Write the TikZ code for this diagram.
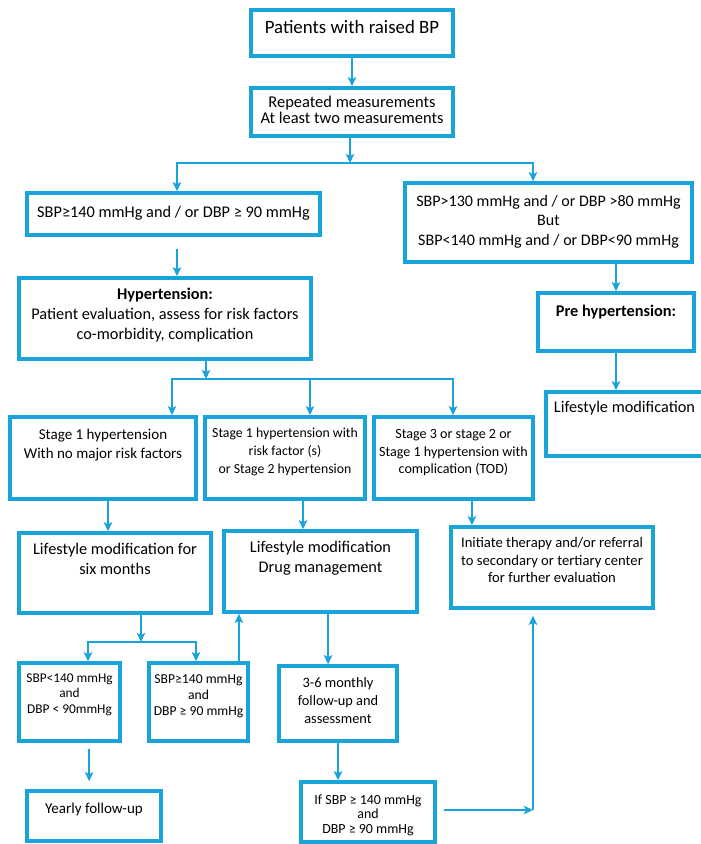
\documentclass[tikz,border=0pt]{standalone}
\usepackage{fontspec}
\setmainfont{Carlito}
\usepackage{tikz}
\usetikzlibrary{arrows.meta, positioning}

\definecolor{bpblue}{RGB}{24,163,218}
\newlength{\pxu}\setlength{\pxu}{0.025cm}
\newcommand{\fsz}[2]{\fontsize{#1}{#2}\selectfont}
\newcommand{\btxt}[4][9]{\parbox[c][#3\pxu][t]{#2\pxu}{\centering\vspace*{#1\pxu}\rule{0pt}{0.7\baselineskip}#4}}

\begin{document}
\begin{tikzpicture}[x=0.025cm, y=-0.025cm, font=\fsz{11.6}{14.2},
    blk/.style={draw=bpblue, line width=2.5pt, inner sep=0pt},
    ln/.style={draw=bpblue, line width=1.5pt},
    arr/.style={ln, -{Stealth[length=6.5pt, width=6pt, inset=1.5pt]}}]
  \useasboundingbox (0,0) rectangle (700,844);

  \node[blk, font=\fsz{13.4}{16}] (pat) at (352,33) {\btxt[8]{202}{46}{Patients with raised BP}};
  \node[blk, font=\fsz{11.7}{11.9}] (rep) at (352,112) {\btxt[7.5]{202}{48}{Repeated measurements\\At least two measurements}};

  \node[blk] (htn) at (173.5,214) {\btxt[10.5]{293}{42}{SBP≥140 mmHg and / or DBP ≥ 90 mmHg}};
  \node[blk, font=\fsz{11.4}{14}] (pre) at (548.5,222.5) {\btxt[9.5]{287}{79}{SBP>130 mmHg and / or DBP >80 mmHg\\But\\SBP<140 mmHg and / or DBP<90 mmHg}};

  \node[blk] (eval) at (165,318.5) {\btxt[8]{292}{81}{\textbf{Hypertension:}\\Patient evaluation, assess for risk factors\\co-morbidity, complication}};
  \node[blk] (prehtn) at (616,322) {\btxt[10]{156}{58}{\textbf{Pre hypertension:}}};
  \node[blk] (lsm) at (624.5,424) {\btxt[7]{157}{64}{Lifestyle modification}};

  \node[blk, font=\fsz{10.7}{13.5}] (st1) at (103,458) {\btxt[9.5]{186}{82}{Stage 1 hypertension\\With no major risk factors}};
  \node[blk, font=\fsz{9.8}{12.8}] (st1r) at (285,458) {\btxt[8]{160}{82}{Stage 1 hypertension with\\risk factor (s)\\or Stage 2 hypertension}};
  \node[blk, font=\fsz{10}{12.6}] (st3) at (453.5,458) {\btxt[9]{159}{82}{Stage 3 or stage 2 or\\Stage 1 hypertension with\\complication (TOD)}};

  \node[blk] (ls6) at (115,573) {\btxt[8]{192}{80}{Lifestyle modification for\\six months}};
  \node[blk] (lsd) at (320.5,571.5) {\btxt[8]{193}{81}{Lifestyle modification\\Drug management}};
  \node[blk, font=\fsz{10.4}{12.4}] (ref) at (552,567.5) {\btxt[8.5]{202}{81}{Initiate therapy and/or referral\\to secondary or tertiary center\\for further evaluation}};

  \node[blk, font=\fsz{9.5}{11}] (ok) at (69.5,702) {\btxt[8.5]{101}{78}{SBP<140 mmHg\\and\\DBP < 90mmHg}};
  \node[blk, font=\fsz{9.7}{11.4}] (notok) at (198.5,702) {\btxt[9]{99}{78}{SBP≥140 mmHg\\and\\DBP ≥ 90 mmHg}};
  \node[blk, font=\fsz{10.2}{12.8}] (fu) at (338,703.5) {\btxt[9]{118}{75}{3-6 monthly\\follow-up and\\assessment}};

  \node[blk, font=\fsz{10.7}{13}] (yfu) at (94,816) {\btxt[10]{134}{50}{Yearly follow-up}};
  \node[blk, font=\fsz{9.9}{10.3}] (chk) at (368,812) {\btxt[12]{134}{60}{If SBP ≥ 140 mmHg\\and\\DBP ≥ 90 mmHg}};

  % branch points
  \coordinate (j1) at (350,163);
  \coordinate (j1l) at (177,163);
  \coordinate (j1r) at (533,163);
  \coordinate (j2) at (206,379);
  \coordinate (j2l) at (172,379);
  \coordinate (j2m) at (310,379);
  \coordinate (j2r) at (453,379);
  \coordinate (j3) at (141,642);
  \coordinate (j3l) at (88,642);
  \coordinate (j3r) at (196,642);
  \coordinate (j4) at (533,810);

  \draw[arr] (pat) -- (rep);
  \draw[arr] (rep.south -| j1) -- (j1);
  \draw[arr] (j1) -| (j1l |- htn.north);
  \draw[arr] (j1) -| (j1r |- pre.north);
  \draw[arr, shorten <=0.3cm] (htn.south -| j1l) -- (eval.north -| j1l);
  \draw[arr] (pre.south -| prehtn) -- (prehtn);
  \draw[arr] (prehtn) -- (prehtn |- lsm.north);

  \draw[arr] (eval.south -| j2) -- (j2);
  \draw[arr] (j2) -| (j2l |- st1.north);
  \draw[arr] (j2) -| (j2r |- st3.north);
  \draw[arr] (j2m) -- (j2m |- st1r.north);

  \coordinate (p6) at ([xshift=0.125cm]st1.south);
  \coordinate (p7) at ([xshift=0.45cm]st1r.south);
  \coordinate (p8) at ([xshift=0.46cm]st3.south);
  \draw[arr] (p6) -- (p6 |- ls6.north);
  \draw[arr] (p7) -- (p7 |- lsd.north);
  \draw[arr] (p8) -- (p8 |- ref.north);

  \draw[arr] (ls6.south -| j3) -- (j3);
  \draw[arr] (j3) -| (j3l |- ok.north);
  \draw[arr] (j3) -| (j3r |- notok.north);

  \coordinate (pb) at ([xshift=1.01cm]notok.north);
  \coordinate (pd) at ([xshift=0.19cm]lsd.south);
  \coordinate (po) at ([xshift=0.49cm]ok.south);
  \draw[arr] (pb) -- (pb |- lsd.south);
  \draw[arr] (pd) -- (pd |- fu.north);
  \draw[arr] (fu) -- (fu |- chk.north);
  \draw[arr, shorten <=0.15cm, shorten >=0.2cm] (po) -- (po |- yfu.north);

  \draw[arr, shorten <=0.18cm] (chk.east |- j4) -- (j4);
  \draw[arr, shorten >=0.15cm] (j4) -- (j4 |- ref.south);
\end{tikzpicture}
\end{document}
